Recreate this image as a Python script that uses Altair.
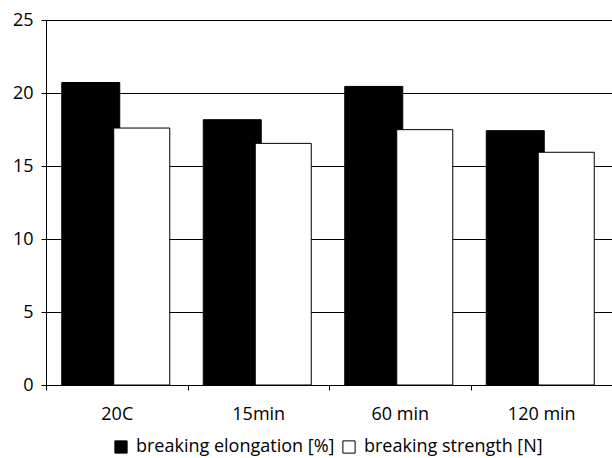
import altair as alt
import pandas as pd

categories = ["20C", "15min", "60 min", "120 min"]
series_names = ["breaking elongation [%]", "breaking strength [N]"]
elongation = [20.72, 18.17, 20.45, 17.42]
strength = [17.60, 16.55, 17.49, 15.94]

rows = []
for c, v in zip(categories, elongation):
    rows.append({"cat": c, "series": series_names[0], "value": v})
for c, v in zip(categories, strength):
    rows.append({"cat": c, "series": series_names[1], "value": v})
df = pd.DataFrame(rows)

FONT = "Open Sans"

x_enc = alt.X(
    "cat:N",
    sort=categories,
    title=None,
    scale=alt.Scale(paddingInner=0, paddingOuter=0),
    axis=alt.Axis(
        labelAngle=0,
        tickBand="extent",
        domainColor="black",
        tickColor="black",
        tickSize=5,
        labelPadding=15,
        labelFontSize=18,
        labelFont=FONT,
        labelColor="black",
    ),
)
y_enc = alt.Y(
    "value:Q",
    title=None,
    scale=alt.Scale(domain=[0, 25], nice=False),
    axis=alt.Axis(
        values=[0, 5, 10, 15, 20, 25],
        grid=True,
        gridColor="black",
        gridOpacity=1,
        gridWidth=1,
        domainColor="black",
        tickColor="black",
        tickSize=5,
        labelPadding=8,
        labelFontSize=18,
        labelFont=FONT,
        labelColor="black",
    ),
)
fill_enc = alt.Fill(
    "series:N",
    scale=alt.Scale(domain=series_names, range=["black", "white"]),
    legend=alt.Legend(
        title=None,
        orient="none",
        direction="horizontal",
        legendX=66,
        legendY=418,
        symbolType="square",
        symbolSize=150,
        symbolStrokeColor="black",
        symbolStrokeWidth=1,
        labelFontSize=18,
        labelFont=FONT,
        labelColor="black",
        labelLimit=0,
        labelOffset=6,
        columnPadding=5,
        padding=0,
    ),
)

base = alt.Chart(df).encode(x=x_enc, y=y_enc, fill=fill_enc)

black_bars = base.transform_filter(alt.datum.series == series_names[0]).mark_bar(
    width=58, xOffset=-26, stroke="black", strokeWidth=1
)
white_bars = base.transform_filter(alt.datum.series == series_names[1]).mark_bar(
    width=56, xOffset=25, stroke="black", strokeWidth=1
)

chart = (
    alt.layer(black_bars, white_bars)
    .properties(
        width=566,
        height=365,
        autosize=alt.AutoSizeParams(type="none"),
        padding={"left": 46, "top": 20, "right": 0, "bottom": 73},
    )
    .configure_view(stroke=None)
    .configure(background="white")
)

chart.save("out.html", embed_options={"renderer": "svg", "actions": False})
